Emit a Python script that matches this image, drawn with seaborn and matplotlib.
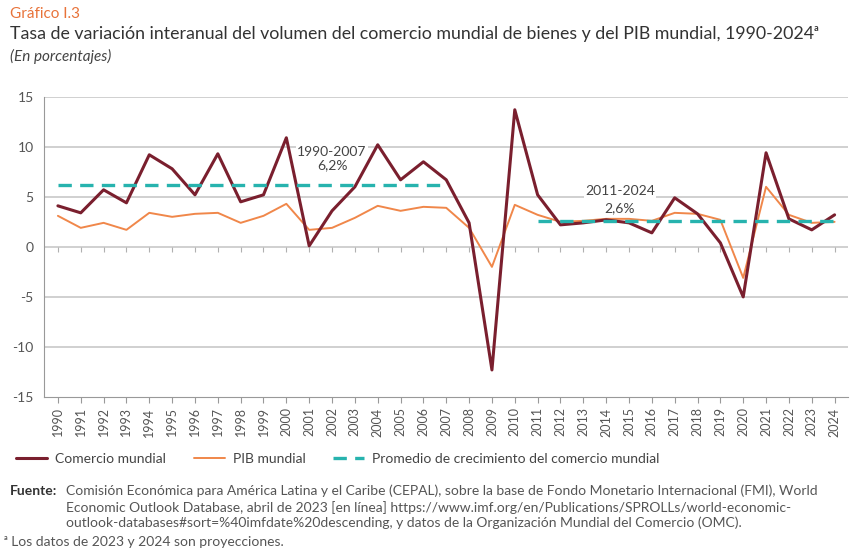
import numpy as np
import pandas as pd
import seaborn as sns
import matplotlib.pyplot as plt

years = list(range(1990, 2025))
comercio = [4.1, 3.4, 5.7, 4.4, 9.2, 7.8, 5.2, 9.3, 4.5, 5.2, 10.9, 0.1, 3.6, 6.0, 10.2, 6.7,
            8.5, 6.7, 2.4, -12.3, 13.7, 5.2, 2.2, 2.4, 2.7, 2.4, 1.4, 4.9, 3.3, 0.4, -5.0,
            9.4, 2.8, 1.7, 3.2]
pib = [3.1, 1.9, 2.4, 1.7, 3.4, 3.0, 3.3, 3.4, 2.4, 3.1, 4.3, 1.7, 1.9, 2.9, 4.1, 3.6,
       4.0, 3.9, 1.9, -2.0, 4.2, 3.2, 2.5, 2.6, 2.8, 2.8, 2.6, 3.4, 3.3, 2.7, -3.1,
       6.0, 3.2, 2.4, 2.5]
promedio_periodos = ["1990-2007", "2011-2024"]
promedio_inicio = [1990, 2011]
promedio_fin = [2007, 2024]
promedio_valor = [6.2, 2.6]
promedio_texto = ["6,2%", "2,6%"]

sns.set_style("white")
plt.rcParams['font.family'] = ['Lato', 'DejaVu Sans']
plt.rcParams['axes.unicode_minus'] = False

df = pd.DataFrame({"year": years, "Comercio mundial": comercio, "PIB mundial": pib})

fig = plt.figure(figsize=(8.5, 5.56), dpi=100)
ax = fig.add_axes([0.052, 0.286, 0.946, 0.54])

for v in [-10, -5, 0, 5, 10, 15]:
    ax.axhline(v, color="#c8c8c8", lw=1.2, zorder=0)

sns.lineplot(data=df, x="year", y="PIB mundial", ax=ax, color="#F0874A", lw=1.4,
             label="PIB mundial", zorder=3)
sns.lineplot(data=df, x="year", y="Comercio mundial", ax=ax, color="#7A1F2E", lw=2.2,
             label="Comercio mundial", zorder=4)
for i in range(len(promedio_valor)):
    xs = [promedio_inicio[i], promedio_fin[i]]
    ys = [promedio_valor[i], promedio_valor[i]]
    ax.plot(xs, ys, color="#27B3AE", lw=2.4, ls=(0, (4, 2.5)), zorder=5,
            label="Promedio de crecimiento del comercio mundial" if i == 0 else None)

# annotation labels
ax.text(2002, 9.5, promedio_periodos[0], ha="center", va="center", fontsize=10, color="#444444",
        bbox=dict(facecolor="white", edgecolor="none", pad=1), zorder=2)
ax.text(2002, 8.2, promedio_texto[0], ha="center", va="center", fontsize=10, color="#444444", zorder=2)
ax.text(2014.6, 5.6, promedio_periodos[1], ha="center", va="center", fontsize=10, color="#444444",
        bbox=dict(facecolor="white", edgecolor="none", pad=1), zorder=2)
ax.text(2014.6, 3.9, promedio_texto[1], ha="center", va="center", fontsize=10, color="#444444", zorder=2)

# small ticks on the zero line
ax.vlines(years, -0.5, 0, color="#b0b0b0", lw=0.8, zorder=1)

ax.set_xlim(1989.4, 2024.6)
ax.set_ylim(-15, 15)
ax.set_yticks([-15, -10, -5, 0, 5, 10, 15])
ax.set_xticks(years)
ax.set_xticklabels([str(y) for y in years], rotation=90, fontsize=9, color="#555555")
ax.tick_params(axis="y", labelsize=10, labelcolor="#555555", length=4, color="#999999")
ax.tick_params(axis="x", length=4, color="#999999", bottom=True)
ax.set_xlabel("")
ax.set_ylabel("")
for s in ["top", "right"]:
    ax.spines[s].set_visible(False)
ax.spines["left"].set_color("#999999")
ax.spines["bottom"].set_color("#999999")

handles, labels = ax.get_legend_handles_labels()
order = [labels.index("Comercio mundial"), labels.index("PIB mundial"),
         labels.index("Promedio de crecimiento del comercio mundial")]
ax.legend([handles[i] for i in order], [labels[i] for i in order], loc="upper left",
          bbox_to_anchor=(-0.05, -0.145), ncol=3, frameon=False, fontsize=10,
          handlelength=2.2, columnspacing=2.0, handletextpad=0.6, labelcolor="#444444")

fig.text(0.012, 0.975, "Gráfico I.3", fontsize=11, color="#E8733A", va="center")
fig.text(0.012, 0.938, "Tasa de variación interanual del volumen del comercio mundial de bienes y del PIB mundial, 1990-2024ᵃ",
         fontsize=12.8, color="#333333", va="center")
fig.text(0.012, 0.899, "(En porcentajes)", fontsize=11, color="#444444", style="italic", va="center")

fig.text(0.012, 0.117, "Fuente:", fontsize=10, color="#333333", weight="bold", va="center")
fig.text(0.078, 0.117, "Comisión Económica para América Latina y el Caribe (CEPAL), sobre la base de Fondo Monetario Internacional (FMI), World",
         fontsize=10, color="#555555", va="center")
fig.text(0.078, 0.088, "Economic Outlook Database, abril de 2023 [en línea] https://www.imf.org/en/Publications/SPROLLs/world-economic-",
         fontsize=10, color="#555555", va="center")
fig.text(0.078, 0.059, "outlook-databases#sort=%40imfdate%20descending, y datos de la Organización Mundial del Comercio (OMC).",
         fontsize=10, color="#555555", va="center")
fig.text(0.005, 0.025, "ᵃ Los datos de 2023 y 2024 son proyecciones.", fontsize=10, color="#555555", va="center")

fig.savefig("out.png", dpi=100)
